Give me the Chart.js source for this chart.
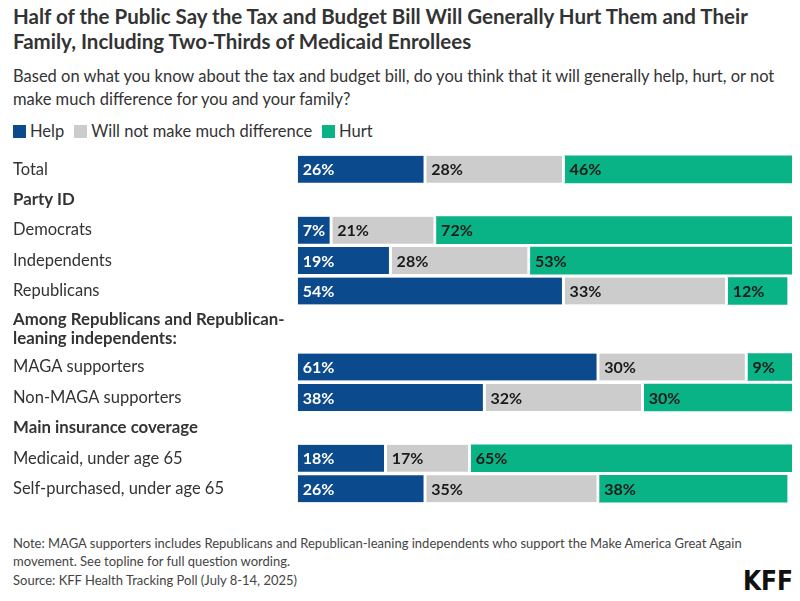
<!DOCTYPE html>
<html>
<head>
<meta charset="utf-8">
<script src="https://cdn.jsdelivr.net/npm/chart.js@4.4.1/dist/chart.umd.min.js"></script>
<style>
  html, body { margin:0; padding:0; background:#fff; }
  body { width:800px; height:601px; position:relative; overflow:hidden; font-family: Lato, "Noto Sans", sans-serif; color:#333; }
  #title { position:absolute; left:13px; top:4px; font-size:20.5px; font-weight:700; line-height:25px; white-space:nowrap; color:#333; }
  #subtitle { position:absolute; left:13px; top:65px; font-size:16.5px; line-height:23px; white-space:nowrap; color:#333; }
  #legend { position:absolute; left:13px; top:121px; font-size:16.5px; line-height:20px; white-space:nowrap; color:#333; }
  #legend span.item { display:inline-block; margin-right:10px; }
  #legend span.box { display:inline-block; width:13px; height:13px; margin-right:4px; vertical-align:-1px; }
  #chartWrap { position:absolute; left:0; top:145px; width:800px; height:365px; }
  #note { position:absolute; left:13px; top:534px; font-size:13px; line-height:18px; white-space:nowrap; color:#444; }
  #source { position:absolute; left:13px; top:571px; font-size:13px; line-height:18px; white-space:nowrap; color:#444; }
  #logo { position:absolute; right:7px; top:566px; font-family:"Liberation Sans Narrow", "DejaVu Sans Condensed", sans-serif; font-weight:700; font-size:26px; color:#111; }
</style>
</head>
<body>
<div id="title">Half of the Public Say the Tax and Budget Bill Will Generally Hurt Them and Their<br>Family, Including Two-Thirds of Medicaid Enrollees</div>
<div id="subtitle">Based on what you know about the tax and budget bill, do you think that it will generally help, hurt, or not<br>make much difference for you and your family?</div>
<div id="legend"></div>
<div id="chartWrap"><canvas id="c"></canvas></div>
<div id="note">Note: MAGA supporters includes Republicans and Republican-leaning independents who support the Make America Great Again<br>movement. See topline for full question wording.</div>
<div id="source">Source: KFF Health Tracking Poll (July 8-14, 2025)</div>
<div id="logo">KFF</div>
<script>
// ---- data ----
const categories = [
  'Total',
  'Party ID',
  'Democrats',
  'Independents',
  'Republicans',
  ['Among Republicans and Republican-', 'leaning independents:'],
  'MAGA supporters',
  'Non-MAGA supporters',
  'Main insurance coverage',
  'Medicaid, under age 65',
  'Self-purchased, under age 65'
];
const rowPos   = [0, 1, 2, 3, 4, 5.25, 6.5, 7.5, 8.5, 9.5, 10.5];
const isHeader = [false, true, false, false, false, true, false, false, true, false, false];
const seriesNames = ['Help', 'Will not make much difference', 'Hurt'];
const helpVals   = [26, null, 7, 19, 54, null, 61, 38, null, 18, 26];
const noDiffVals = [28, null, 21, 28, 33, null, 30, 32, null, 17, 35];
const hurtVals   = [46, null, 72, 53, 12, null, 9, 30, null, 65, 38];
const seriesColors = ['#0b4a8c', '#cccccc', '#0ab386'];
const labelColors  = ['#ffffff', '#1a1a1a', '#1a1a1a'];

// ---- legend (HTML) ----
const lg = document.getElementById('legend');
seriesNames.forEach((n, i) => {
  const s = document.createElement('span'); s.className = 'item';
  const b = document.createElement('span'); b.className = 'box'; b.style.background = seriesColors[i];
  s.appendChild(b); s.appendChild(document.createTextNode(n)); lg.appendChild(s);
});

function toPoints(vals) {
  const out = [];
  vals.forEach((v, i) => { if (v !== null) out.push({ x: v, y: rowPos[i] }); });
  return out;
}
const allVals = [helpVals, noDiffVals, hurtVals];
const datasets = allVals.map((vals, i) => ({
  label: seriesNames[i],
  data: toPoints(vals),
  backgroundColor: seriesColors[i],
  borderColor: '#ffffff',
  borderWidth: i < 2 ? { right: 3, left: 0, top: 0, bottom: 0 } : 0,
  borderSkipped: false,
  barThickness: 27
}));

const valueLabels = {
  id: 'valueLabels',
  afterDatasetsDraw(chart) {
    const ctx = chart.ctx;
    ctx.save();
    ctx.font = 'bold 16px Lato, "Noto Sans", sans-serif';
    ctx.textBaseline = 'middle';
    ctx.textAlign = 'left';
    chart.data.datasets.forEach((ds, di) => {
      const meta = chart.getDatasetMeta(di);
      meta.data.forEach((el, j) => {
        const v = ds.data[j].x;
        const start = Math.min(el.base, el.x);
        ctx.fillStyle = labelColors[di];
        ctx.fillText(v + '%', start + 5, el.y + 1);
      });
    });
    ctx.restore();
  }
};

new Chart(document.getElementById('c'), {
  type: 'bar',
  data: { datasets },
  plugins: [valueLabels],
  options: {
    indexAxis: 'y',
    responsive: true,
    maintainAspectRatio: false,
    animation: false,
    layout: { padding: { left: 13, right: 8, top: 0, bottom: 0 } },
    plugins: { legend: { display: false }, tooltip: { enabled: false } },
    scales: {
      x: { type: 'linear', stacked: true, min: 0, max: 100, display: false },
      y: {
        type: 'linear', stacked: true, reverse: true, min: -0.8, max: 11.2,
        offset: false,
        grid: { display: false, offset: false }, border: { display: false },
        afterBuildTicks(scale) { scale.ticks = rowPos.map(v => ({ value: v })); },
        afterFit(scale) { scale.width = 284.7; scale.paddingTop = 0; scale.paddingBottom = 0; },
        ticks: {
          crossAlign: 'far',
          padding: 0,
          color: '#333',
          autoSkip: false,
          font: (ctx) => ({
            family: 'Lato, "Noto Sans", sans-serif',
            size: isHeader[ctx.index] ? 16.8 : 16.5,
            weight: isHeader[ctx.index] ? 'bold' : 'normal',
            lineHeight: 1.1
          }),
          callback: (value) => {
            const i = rowPos.indexOf(value);
            return i >= 0 ? categories[i] : '';
          }
        }
      }
    }
  }
});
</script>
</body>
</html>
